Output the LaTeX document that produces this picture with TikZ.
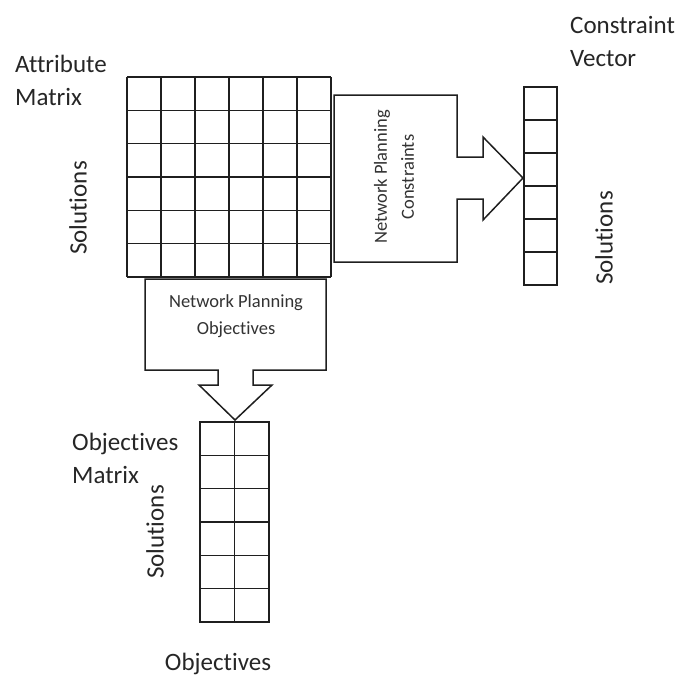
\documentclass[tikz,border=0pt]{standalone}
\usepackage{fontspec}
\setmainfont{Carlito}[Ligatures=NoCommon]
\begin{document}
\begin{tikzpicture}[x=1pt,y=-1pt,
  gridline/.style={draw=black!88, line width=1.5pt},
  blockarrow/.style={draw=black!88, line width=1.5pt, fill=white, line join=miter},
  caption/.style={font=\fontsize{25}{33}\selectfont, text=black!85, align=left, inner sep=0pt},
  sidecaption/.style={font=\fontsize{25}{30}\selectfont, text=black!85, inner sep=0pt, rotate=90},
  arrowtext/.style={font=\fontsize{18.5}{27}\selectfont, text=black!80, align=center, inner sep=0pt}]
\useasboundingbox (0,0) rectangle (682,677);

% attribute matrix: 6 x 6 cells
\foreach \i in {0,...,6} {
  \draw[gridline] ({127+34*\i},77) -- ({127+34*\i},277);
  \draw[gridline] (127,{77+200/6*\i}) -- (331,{77+200/6*\i});
}

% constraint vector: 1 x 6 cells
\draw[gridline] (524,87) rectangle (557,285);
\foreach \i in {1,...,5}
  \draw[gridline] (524,{87+33*\i}) -- (557,{87+33*\i});

% objectives matrix: 2 x 6 cells
\draw[gridline] (200,422) rectangle (269,622);
\draw[gridline] (234.5,422) -- (234.5,622);
\foreach \i in {1,...,5}
  \draw[gridline] (200,{422+200/6*\i}) -- (269,{422+200/6*\i});

% block arrow towards the constraint vector
\draw[blockarrow] (334,95) -- (457,95) -- (457,157) -- (483,157) -- (483,137)
  -- (523,178) -- (483,220) -- (483,199) -- (457,199) -- (457,262) -- (334,262) -- cycle;
\node[arrowtext, rotate=90] (cons) at (394,177) {Network Planning\\Constraints};

% block arrow towards the objectives matrix
\draw[blockarrow] (145,279) -- (326,279) -- (326,370) -- (253,370) -- (253,385)
  -- (272,385) -- (235,420) -- (199,385) -- (218,385) -- (218,370) -- (145,370) -- cycle;
\node[arrowtext] (obj) at (236,316) {Network Planning\\Objectives};

% captions
\node[caption, anchor=north west] (attr) at (15,55) {Attribute\\Matrix};
\node[caption, anchor=north west] (cvec) at (570,16) {Constraint\\Vector};
\node[caption, anchor=north west] (omat) at (72,433) {Objectives\\Matrix};
\node[caption, anchor=base] (ocols) at (218,670) {Objectives};
\node[sidecaption] (sol1) at (78,208) {Solutions};
\node[sidecaption] (sol2) at (604,238) {Solutions};
\node[sidecaption] (sol3) at (155,532) {Solutions};
\end{tikzpicture}
\end{document}
